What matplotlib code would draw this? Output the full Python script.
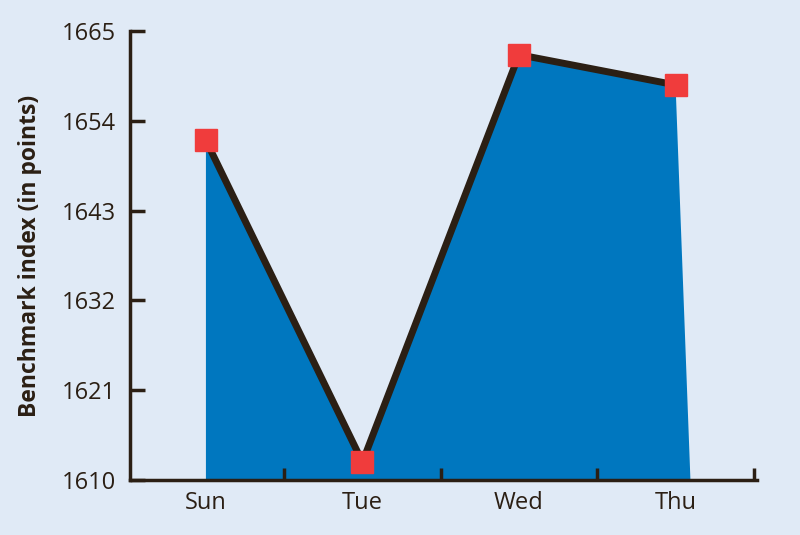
import matplotlib.pyplot as plt
import numpy as np

days = ['Sun', 'Tue', 'Wed', 'Thu']
index_values = [1651.6, 1612.2, 1662.1, 1658.4]
y_ticks = [1610, 1621, 1632, 1643, 1654, 1665]

bg = '#e0eaf6'
dark = '#2b1f14'

plt.rcParams['font.family'] = ['Open Sans', 'DejaVu Sans']

fig = plt.figure(figsize=(8, 5.35), dpi=100, facecolor=bg)
ax = fig.add_axes([0.1625, 0.1028, 0.7837, 0.8392], facecolor=bg)

x = np.arange(len(days))
# area under the line (right edge slants out a little at the bottom)
poly_x = np.concatenate([[x[0]], x, [x[-1] + 0.095]])
poly_y = np.concatenate([[y_ticks[0]], index_values, [y_ticks[0]]])
ax.fill(poly_x, poly_y, color='#0077bf', lw=0, zorder=1)

ax.plot(x, index_values, color=dark, lw=5, zorder=2, solid_capstyle='butt')
ax.plot(x, index_values, ls='none', marker='s', ms=15.5, color='#f03c3c', zorder=3)

ax.set_xlim(-0.485, 3.52)
ax.set_ylim(y_ticks[0], y_ticks[-1])
ax.set_yticks(y_ticks)
ax.set_xticks(x)
ax.set_xticklabels(days)
ax.set_xticks(x + 0.5, minor=True)

for s in ['top', 'right']:
    ax.spines[s].set_visible(False)
for s in ['left', 'bottom']:
    ax.spines[s].set_color(dark)
    ax.spines[s].set_linewidth(2.5)

ax.tick_params(axis='y', direction='in', length=11, width=2.5, color=dark,
               labelsize=17, labelcolor=dark, pad=10)
ax.tick_params(axis='x', which='major', length=0, labelsize=17, labelcolor=dark, pad=8)
ax.tick_params(axis='x', which='minor', direction='in', length=9, width=2.5, color=dark)

ax.set_ylabel('Benchmark index (in points)', fontsize=16.5, fontweight='bold',
              color=dark, labelpad=14)

fig.savefig('out.png', dpi=100, facecolor=bg)
